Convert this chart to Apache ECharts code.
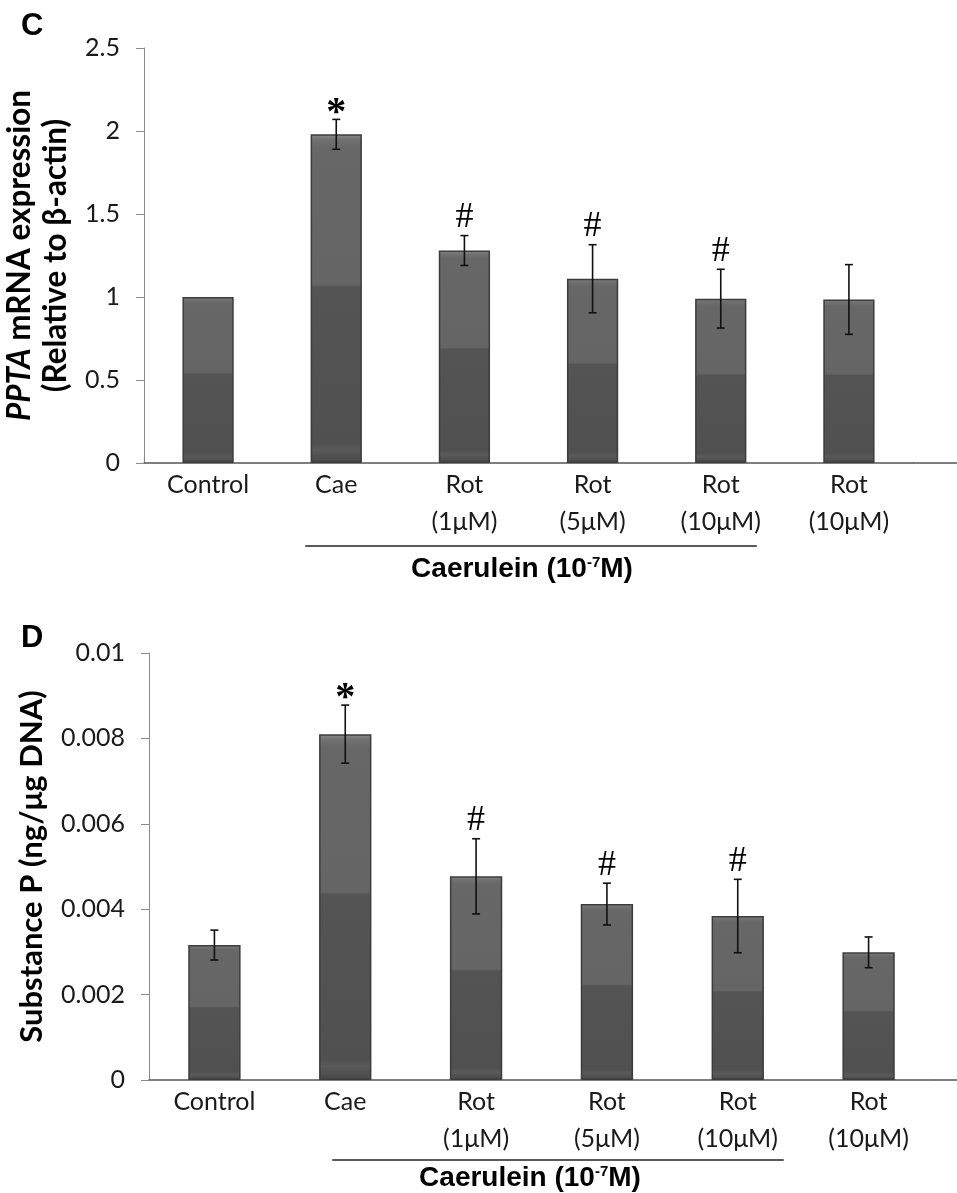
<!DOCTYPE html>
<html><head><meta charset="utf-8">
<script src="https://cdn.jsdelivr.net/npm/echarts@6/dist/echarts.min.js"></script>
<style>html,body{margin:0;padding:0;background:#fff}#c{width:957px;height:1193px}</style>
</head><body><div id="c"></div>
<script>
// ---- data ----
const categories = ['Control', 'Cae', 'Rot\n(1μM)', 'Rot\n(5μM)', 'Rot\n(10μM)', 'Rot\n(10μM)'];
const pptaValues = [1.0, 1.98, 1.28, 1.11, 0.99, 0.985];
const pptaErrors = [0, 0.09, 0.09, 0.205, 0.177, 0.21];
const pptaMarks = ['', '*', '#', '#', '#', ''];
const spValues = [0.00316, 0.0081, 0.00477, 0.00412, 0.00384, 0.00299];
const spErrors = [0.00035, 0.00068, 0.00088, 0.00049, 0.00086, 0.00036];
const spMarks = ['', '*', '#', '#', '#', ''];
const pptaAxis = { min: 0, max: 2.5, interval: 0.5 };
const spAxis = { min: 0, max: 0.01, interval: 0.002 };
const pptaName = '{i|PPTA} mRNA expression\n(Relative to β-actin)';
const spName = 'Substance P (ng/μg DNA)';
const groupLabel = 'Caerulein (10{sup|-7}M)';

// ---- styles ----
const LBL = '#1a1a1a';
const barFill = {
  type: 'linear', x: 0, y: 0, x2: 0, y2: 1,
  colorStops: [
    { offset: 0, color: '#8c8c8c' },
    { offset: 0.015, color: '#727272' },
    { offset: 0.04, color: '#676767' },
    { offset: 0.455, color: '#656565' },
    { offset: 0.465, color: '#545454' },
    { offset: 0.94, color: '#505050' },
    { offset: 0.96, color: '#5a5a5a' },
    { offset: 1, color: '#474747' }
  ]
};

function errorRender(values, errors, marks) {
  return function (params, api) {
    const i = params.dataIndex;
    const v = values[i], e = errors[i];
    const x = api.coord([i, v])[0];
    const topY = api.coord([i, v + e])[1];
    const botY = api.coord([i, v - e])[1];
    const cap = 4;
    const st = { stroke: '#111', lineWidth: 1.6 };
    const children = [];
    if (e > 0) {
      children.push({ type: 'line', shape: { x1: x, y1: topY, x2: x, y2: botY }, style: st });
      children.push({ type: 'line', shape: { x1: x - cap, y1: topY, x2: x + cap, y2: topY }, style: st });
      children.push({ type: 'line', shape: { x1: x - cap, y1: botY, x2: x + cap, y2: botY }, style: st });
    }
    if (marks[i]) {
      const star = marks[i] === '*';
      children.push({
        type: 'text',
        style: {
          text: marks[i], x: x, y: topY - (star ? 6 : 18),
          align: 'center', verticalAlign: 'middle',
          font: (star ? 'bold 40px' : '36px') + ' "Liberation Serif", serif', fill: '#000'
        }
      });
    }
    return { type: 'group', children: children };
  };
}

function xAxisCfg(grid) {
  return {
    type: 'category', gridIndex: grid, data: categories,
    axisLine: { lineStyle: { color: '#555', width: 1.5 } },
    axisTick: { show: false },
    axisLabel: { color: LBL, fontFamily: 'Lato', fontSize: 25, lineHeight: 37, margin: 3, interval: 0 }
  };
}
function yAxisCfg(grid, ax, name, gap, size, rich) {
  return {
    type: 'value', gridIndex: grid, min: ax.min, max: ax.max, interval: ax.interval,
    name: name, nameLocation: 'middle', nameRotate: 90, nameGap: gap,
    nameTextStyle: { fontFamily: 'Lato', fontWeight: 'bold', fontSize: size, lineHeight: 36, color: '#000', rich: rich || {} },
    axisLine: { show: true, lineStyle: { color: '#8a8a8a', width: 1 } },
    axisTick: { show: true, length: 8, lineStyle: { color: '#8a8a8a' } },
    splitLine: { show: false },
    axisLabel: { color: LBL, fontFamily: 'Lato', fontSize: 25, margin: 24 }
  };
}

const chart = echarts.init(document.getElementById('c'), null, { renderer: 'canvas' });
const option = {
  animation: false,
  backgroundColor: '#fff',
  title: [
    { text: 'C', left: 16, top: 6, textStyle: { fontFamily: 'Liberation Sans', fontWeight: 'bold', fontSize: 31, color: '#000' } },
    { text: 'D', left: 16, top: 618, textStyle: { fontFamily: 'Liberation Sans', fontWeight: 'bold', fontSize: 31, color: '#000' } }
  ],
  grid: [
    { left: 144, top: 48, width: 769, height: 415, outerBoundsMode: 'none', containLabel: false },
    { left: 149, top: 653, width: 785, height: 427, outerBoundsMode: 'none', containLabel: false }
  ],
  xAxis: [xAxisCfg(0), xAxisCfg(1)],
  yAxis: [
    yAxisCfg(0, pptaAxis, pptaName, 56, 31.5, { i: { fontFamily: 'Lato', fontStyle: 'italic', fontWeight: 'bold', fontSize: 31.5, color: '#000' } }),
    yAxisCfg(1, spAxis, spName, 92, 31)
  ],
  series: [
    { type: 'bar', xAxisIndex: 0, yAxisIndex: 0, data: pptaValues, barWidth: '40%',
      itemStyle: { color: barFill, borderColor: '#3c3c3c', borderWidth: 1.5 } },
    { type: 'custom', xAxisIndex: 0, yAxisIndex: 0, data: pptaValues.map((v, i) => [i, v]),
      encode: { x: 0, y: 1 }, renderItem: errorRender(pptaValues, pptaErrors, pptaMarks), z: 5 },
    { type: 'bar', xAxisIndex: 1, yAxisIndex: 1, data: spValues, barWidth: '40%',
      itemStyle: { color: barFill, borderColor: '#3c3c3c', borderWidth: 1.5 } },
    { type: 'custom', xAxisIndex: 1, yAxisIndex: 1, data: spValues.map((v, i) => [i, v]),
      encode: { x: 0, y: 1 }, renderItem: errorRender(spValues, spErrors, spMarks), z: 5 }
  ]
};
chart.setOption(option);

// group bracket + label, positioned from the category axes
function bracket(grid, y, leftOff, rightOff, labelY, labelShift) {
  const xa = chart.convertToPixel({ xAxisIndex: grid }, 1);
  const xb = chart.convertToPixel({ xAxisIndex: grid }, 4);
  const x1 = xa - leftOff, x2 = xb + rightOff;
  return [
    { type: 'line', shape: { x1: x1, y1: y, x2: x2, y2: y }, style: { stroke: '#222', lineWidth: 1.5 } },
    { type: 'text', x: (x1 + x2) / 2 + labelShift, y: labelY,
      style: { text: groupLabel, align: 'center', verticalAlign: 'middle',
        font: 'bold 28px "Liberation Sans", sans-serif', fill: '#000',
        rich: { sup: { font: 'bold 15px "Liberation Sans", sans-serif', fill: '#000', verticalAlign: 'top', lineHeight: 28 } } } }
  ];
}
// axis baseline continues to the right edge as in the source figure
function axisTail(grid) {
  const p = chart.convertToPixel({ xAxisIndex: grid, yAxisIndex: grid }, [5, 0]);
  const band = chart.convertToPixel({ xAxisIndex: grid }, 5) - chart.convertToPixel({ xAxisIndex: grid }, 4);
  return { type: 'line', shape: { x1: p[0] + band / 2, y1: p[1], x2: 957, y2: p[1] }, style: { stroke: '#555', lineWidth: 1.5 } };
}
chart.setOption({
  graphic: [].concat(
    bracket(0, 546, 31, 36, 569, -9),
    bracket(1, 1160, 13, 46, 1178, -28),
    [axisTail(0), axisTail(1)]
  )
});
</script></body></html>
